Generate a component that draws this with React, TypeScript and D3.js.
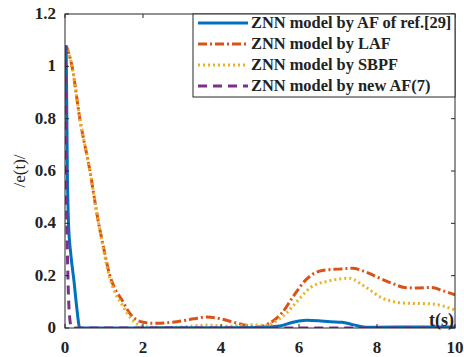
import React from "react";
import * as d3 from "d3";

const xTicks = [0, 2, 4, 6, 8, 10];
const yTicks = [0, 0.2, 0.4, 0.6, 0.8, 1, 1.2];
const yTickLabels = ["0", "0.2", "0.4", "0.6", "0.8", "1", "1.2"];

const seriesNames = [
  "ZNN model by AF of ref.[29]",
  "ZNN model by LAF",
  "ZNN model by SBPF",
  "ZNN model by new AF(7)",
];

const blueT = [0.03, 0.06, 0.09, 0.15, 0.23, 0.3, 0.38, 1, 2, 3, 4, 5, 5.5, 5.8, 6.0, 6.2, 6.5, 6.8, 7.1, 7.4, 7.7, 8, 9, 10];
const blueV = [1.08, 0.6, 0.4, 0.28, 0.18, 0.08, 0.0, 0.0, 0.0, 0.001, 0.001, 0.002, 0.008, 0.02, 0.027, 0.03, 0.028, 0.024, 0.022, 0.012, 0.003, 0.003, 0.004, 0.004];

const orangeT = [0.03, 0.18, 0.38, 0.64, 0.85, 1.0, 1.15, 1.3, 1.46, 1.6, 1.72, 1.85, 2.0, 2.3, 2.6, 3.0, 3.3, 3.64, 3.9, 4.2, 4.5, 4.8, 5.0, 5.2, 5.56, 5.85, 6.15, 6.4, 6.6, 7.0, 7.36, 7.7, 8.0, 8.4, 8.7, 9.0, 9.4, 9.7, 10];
const orangeV = [1.08, 1.0, 0.8, 0.6, 0.41, 0.3, 0.2, 0.145, 0.107, 0.07, 0.045, 0.03, 0.022, 0.018, 0.02, 0.027, 0.035, 0.042, 0.038, 0.027, 0.015, 0.006, 0.004, 0.015, 0.057, 0.12, 0.18, 0.21, 0.22, 0.225, 0.228, 0.215, 0.195, 0.17, 0.155, 0.153, 0.155, 0.142, 0.127];

const yellowT = [0.03, 0.18, 0.38, 0.64, 0.85, 1.0, 1.15, 1.3, 1.46, 1.6, 1.72, 1.85, 2.0, 2.2, 2.6, 3.0, 3.3, 3.64, 3.9, 4.2, 4.5, 4.8, 5.1, 5.4, 5.7, 6.0, 6.3, 6.77, 7.28, 7.7, 8.13, 8.72, 9.4, 10];
const yellowV = [1.08, 1.0, 0.8, 0.6, 0.41, 0.29, 0.19, 0.13, 0.09, 0.055, 0.032, 0.015, 0.007, 0.003, 0.002, 0.004, 0.008, 0.011, 0.009, 0.007, 0.01, 0.012, 0.01, 0.025, 0.06, 0.11, 0.155, 0.18, 0.19, 0.157, 0.115, 0.095, 0.092, 0.069];

const purpleT = [0.0, 0.03, 0.06, 0.09, 0.12, 0.16, 0.2, 1, 2, 3, 4, 5, 6, 7, 8, 9, 10];
const purpleV = [1.08, 0.6, 0.3, 0.12, 0.04, 0.005, 0.0, 0.0, 0.0, 0.0, 0.0, 0.0, 0.0, 0.0, 0.0, 0.0, 0.0];

const colors = ["#0072BD", "#D95319", "#EDB120", "#7E2F8E"];
const dashes = ["none", "9 3 2 3", "2 3", "9 6"];

export default function App() {
  const left = 65, right = 455, top = 14, bottom = 328;
  const x = d3.scaleLinear().domain([0, 10]).range([left, right]);
  const y = d3.scaleLinear().domain([0, 1.2]).range([bottom, top]);
  const line = d3
    .line<[number, number]>()
    .x((d) => x(d[0]))
    .y((d) => y(d[1]))
    .curve(d3.curveMonotoneX);

  const series = [
    { t: blueT, v: blueV },
    { t: orangeT, v: orangeV },
    { t: yellowT, v: yellowV },
    { t: purpleT, v: purpleV },
  ];
  const order = [1, 2, 0, 3];
  const fontStyle = { fontFamily: "'Liberation Serif', 'Times New Roman', Times, serif" };
  const axisColor = "#262626";

  return (
    <svg width={464} height={357} style={{ position: "absolute", left: 0, top: 0, background: "#fff" }}>
      <rect x={0} y={0} width={464} height={357} fill="#fff" />
      <defs>
        <clipPath id="plotclip">
          <rect x={left} y={top - 2} width={right - left} height={bottom - top + 2} />
        </clipPath>
      </defs>
      <g clipPath="url(#plotclip)">
        {order.map((i) => (
          <path
            key={i}
            d={line(series[i].t.map((t, k) => [t, series[i].v[k]] as [number, number])) || ""}
            fill="none"
            stroke={colors[i]}
            strokeWidth={3}
            strokeDasharray={dashes[i]}
          />
        ))}
      </g>
      <rect x={left} y={top} width={right - left} height={bottom - top} fill="none" stroke={axisColor} strokeWidth={1} />
      <g style={fontStyle}>
        {xTicks.map((t) => (
          <g key={"xt" + t}>
            <line x1={x(t)} x2={x(t)} y1={bottom} y2={bottom - 4} stroke={axisColor} />
            <line x1={x(t)} x2={x(t)} y1={top} y2={top + 4} stroke={axisColor} />
            <text x={x(t)} y={353} textAnchor="middle" fontWeight="bold" fontSize={17} fill="#222">
              {t}
            </text>
          </g>
        ))}
        {yTicks.map((v, k) => (
          <g key={"yt" + v}>
            <line x1={left} x2={left + 4} y1={y(v)} y2={y(v)} stroke={axisColor} />
            <line x1={right} x2={right - 4} y1={y(v)} y2={y(v)} stroke={axisColor} />
            <text x={56} y={y(v) + 5} textAnchor="end" fontWeight="bold" fontSize={17} fill="#222">
              {yTickLabels[k]}
            </text>
          </g>
        ))}
        <text transform="translate(25,171) rotate(-90)" textAnchor="middle" fontSize={17} fill="#222">
          /e(t)/
        </text>
        <text x={454} y={326} textAnchor="end" fontWeight="bold" fontSize={18} fill="#222">
          t(s)
        </text>
        <rect x={193} y={14} width={262} height={83} fill="#fff" stroke={axisColor} strokeWidth={1} />
        {seriesNames.map((name, i) => {
          const yy = 23 + i * 21;
          return (
            <g key={name}>
              <line x1={198} x2={248} y1={yy} y2={yy} stroke={colors[i]} strokeWidth={3} strokeDasharray={dashes[i]} />
              <text x={251} y={yy + 5} fontWeight="bold" fontSize={16.4} fill="#222">
                {name}
              </text>
            </g>
          );
        })}
      </g>
    </svg>
  );
}
